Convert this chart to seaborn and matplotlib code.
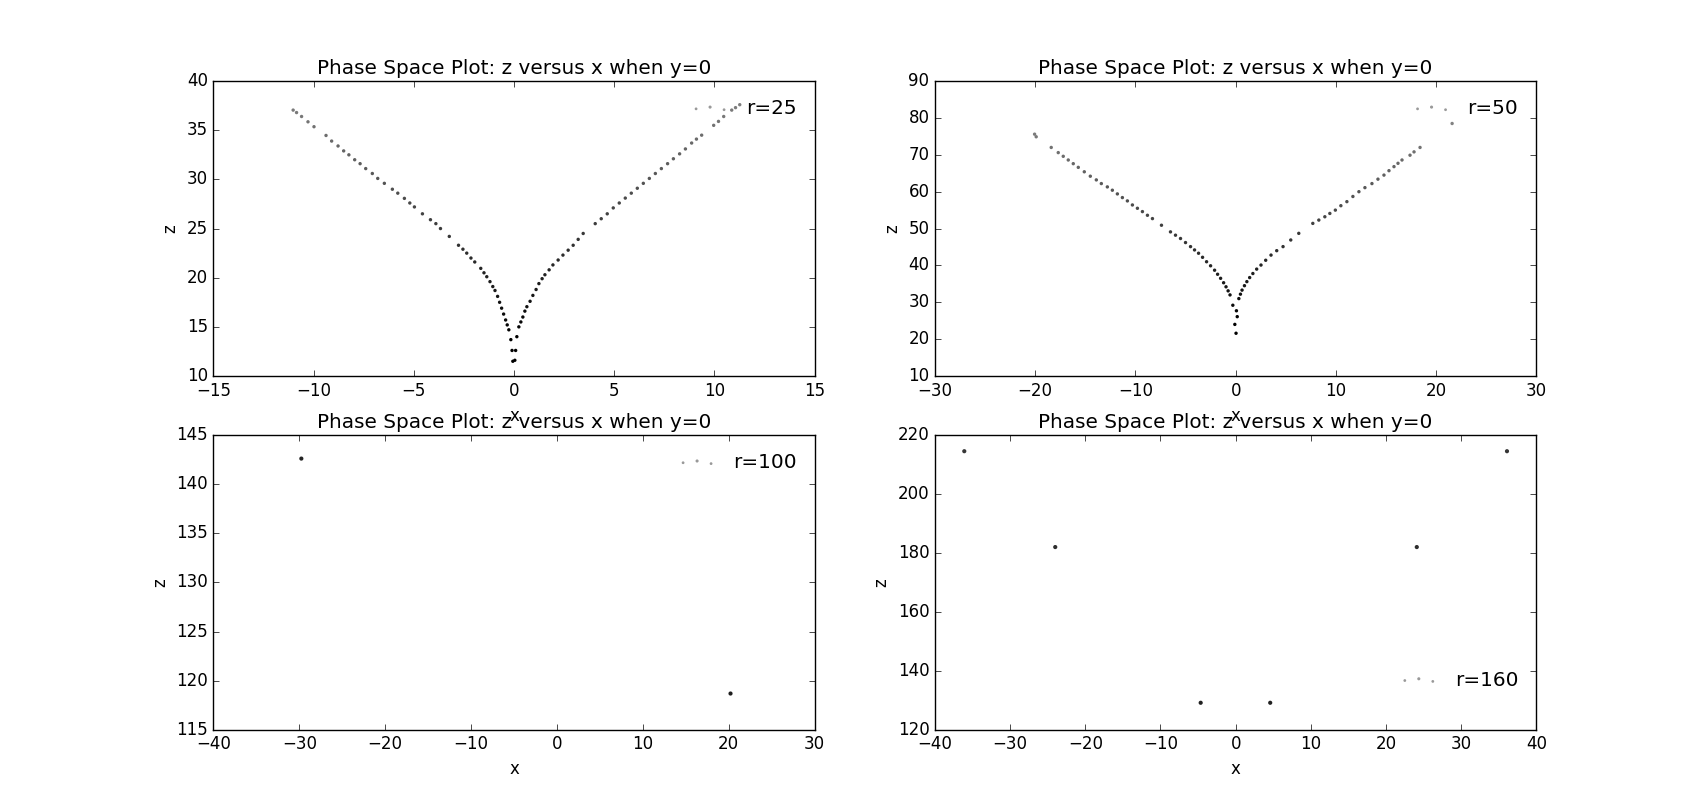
import matplotlib
matplotlib.use("Agg")
import matplotlib.pyplot as plt
import seaborn as sns
import numpy as np
import pandas as pd

# ---- data (Poincare section points: x, z) ----
r25_x = [-11.02, -10.85, -10.6, -10.28, -9.98, -9.38, -9.1, -8.78, -8.5, -8.24,
         -7.95, -7.68, -7.4, -7.07, -6.8, -6.47, -6.07, -5.8, -5.47, -5.2,
         -4.97, -4.57, -4.17, -3.9, -3.67, -3.23, -2.77, -2.55, -2.36, -2.15,
         -1.96, -1.66, -1.5, -1.36, -1.2, -1.06, -0.95, -0.82, -0.72, -0.62,
         -0.52, -0.42, -0.34, -0.26, -0.16, -0.10, -0.06,
         0.04, 0.08, 0.14, 0.24, 0.34, 0.44, 0.54, 0.64, 0.8, 0.94,
         1.1, 1.24, 1.4, 1.54, 1.75, 1.94, 2.2, 2.44, 2.7, 2.95,
         3.2, 3.45, 4.05, 4.35, 4.65, 4.95, 5.25, 5.55, 5.85, 6.15,
         6.45, 6.75, 7.05, 7.35, 7.66, 7.95, 8.26, 8.55, 8.86, 9.1,
         9.36, 9.96, 10.2, 10.46, 10.86, 11.05, 11.26]
r25_z = [37.05, 36.8, 36.4, 35.86, 35.36, 34.47, 33.9, 33.4, 32.9, 32.5,
         32.0, 31.6, 31.1, 30.6, 30.1, 29.6, 29.0, 28.6, 28.07, 27.6,
         27.2, 26.5, 25.9, 25.5, 25.0, 24.2, 23.3, 22.9, 22.5, 22.0,
         21.6, 20.95, 20.5, 20.1, 19.6, 19.1, 18.7, 18.1, 17.5, 16.9,
         16.3, 15.7, 15.2, 14.7, 13.7, 12.6, 11.5,
         11.6, 12.6, 14.0, 15.0, 15.5, 16.0, 16.6, 17.05, 17.6, 18.2,
         18.8, 19.4, 19.9, 20.3, 20.8, 21.3, 21.8, 22.3, 22.8, 23.3,
         23.9, 24.5, 25.5, 26.0, 26.5, 27.1, 27.6, 28.1, 28.6, 29.1,
         29.6, 30.1, 30.6, 31.1, 31.6, 32.1, 32.6, 33.1, 33.7, 34.1,
         34.5, 35.5, 35.9, 36.4, 37.05, 37.3, 37.6]

r50_x = [-20.06, -19.9, -18.4, -17.7, -17.2, -16.7, -16.2, -15.7, -15.1, -14.5,
         -13.9, -13.4, -12.8, -12.3, -11.8, -11.3, -10.8, -10.3, -9.8, -9.3,
         -8.8, -8.3, -7.4, -6.5, -6.0, -5.5, -5.0, -4.5, -4.1, -3.7,
         -3.3, -2.9, -2.5, -2.1, -1.8, -1.5, -1.2, -0.96, -0.75, -0.56,
         -0.28, 0.08, 0.16, -0.08, 0.04,
         0.32, 0.48, 0.64, 0.88, 1.12, 1.4, 1.72, 2.1, 2.53, 3.0,
         3.53, 4.1, 4.73, 5.5, 6.3, 7.7, 8.3, 8.9, 9.4, 9.95,
         10.5, 11.1, 11.7, 12.3, 12.9, 13.6, 14.2, 14.8, 15.3, 15.8,
         16.2, 16.6, 17.4, 17.8, 18.4, 21.6]
r50_z = [75.6, 74.9, 72.0, 70.6, 69.6, 68.6, 67.6, 66.6, 65.4, 64.2,
         63.2, 62.2, 61.3, 60.4, 59.4, 58.4, 57.5, 56.4, 55.5, 54.6,
         53.6, 52.7, 50.9, 49.1, 48.2, 47.3, 46.2, 45.1, 44.2, 43.3,
         42.2, 41.0, 39.9, 38.7, 37.6, 36.5, 35.3, 34.2, 33.1, 32.0,
         29.2, 27.7, 26.1, 24.0, 21.6,
         31.0, 32.2, 33.3, 34.5, 35.6, 36.7, 37.8, 39.0, 40.1, 41.4,
         42.8, 44.0, 45.1, 46.9, 48.7, 51.4, 52.3, 53.2, 54.1, 55.0,
         56.2, 57.3, 58.7, 60.0, 61.1, 62.2, 63.4, 64.5, 65.7, 66.8,
         67.7, 68.6, 69.9, 70.8, 72.0, 78.5]

r100_x = [-29.76, 20.2]
r100_z = [142.6, 118.7]

r160_x = [-36.1, -24.0, -4.65, 4.6, 24.1, 36.1]
r160_z = [214.5, 182.0, 129.2, 129.2, 182.0, 214.5]

panels = [
    ("r=25", r25_x, r25_z, (-15, 15), (10, 40), "upper right", None, (14, 62), 6),
    ("r=50", r50_x, r50_z, (-30, 30), (10, 90), "upper right", None, (25, 130), 6),
    ("r=100", r100_x, r100_z, (-40, 30), (115, 145), "upper right", None, (0, 1000), 9),
    ("r=160", r160_x, r160_z, (-40, 40), (120, 220), "lower right", (1.0, 0.075), (0, 1000), 9),
]

plt.style.use("classic")
plt.rcParams["font.family"] = ["DejaVu Sans"]
plt.rcParams["figure.facecolor"] = "white"
plt.rcParams["savefig.facecolor"] = "white"

fig, axes = plt.subplots(2, 2, figsize=(17.07, 8.11), dpi=100)
fig.subplots_adjust(left=0.125, right=0.9, bottom=0.1, top=0.9, wspace=0.2, hspace=0.2)

for ax, (label, xs, zs, xlim, zlim, loc, anchor, hn, msize) in zip(axes.flat, panels):
    df = pd.DataFrame({"x": xs, "z": zs})
    sns.scatterplot(data=df, x="x", y="z", hue="z", palette="gray", hue_norm=hn,
                    s=msize, linewidth=0, marker="o", legend=False, ax=ax)
    ax.set_xlim(*xlim)
    ax.set_ylim(*zlim)
    ax.set_title("Phase Space Plot: z versus x when y=0", fontsize=14.4)
    ax.set_xlabel("x", fontsize=12)
    ax.set_ylabel("z", fontsize=12)
    ax.tick_params(labelsize=12, direction="in", top=True, right=True)
    coll = ax.collections[0]
    kw = dict(loc=loc, scatterpoints=3, frameon=False, fontsize=14.4)
    if anchor is not None:
        kw["bbox_to_anchor"] = anchor
    leg = ax.legend([coll], [label], **kw)
    for h in leg.legend_handles:
        h.set_color("0.6")
        h.set_sizes([4, 5, 4])

fig.savefig("out.png", dpi=100, facecolor="white")
